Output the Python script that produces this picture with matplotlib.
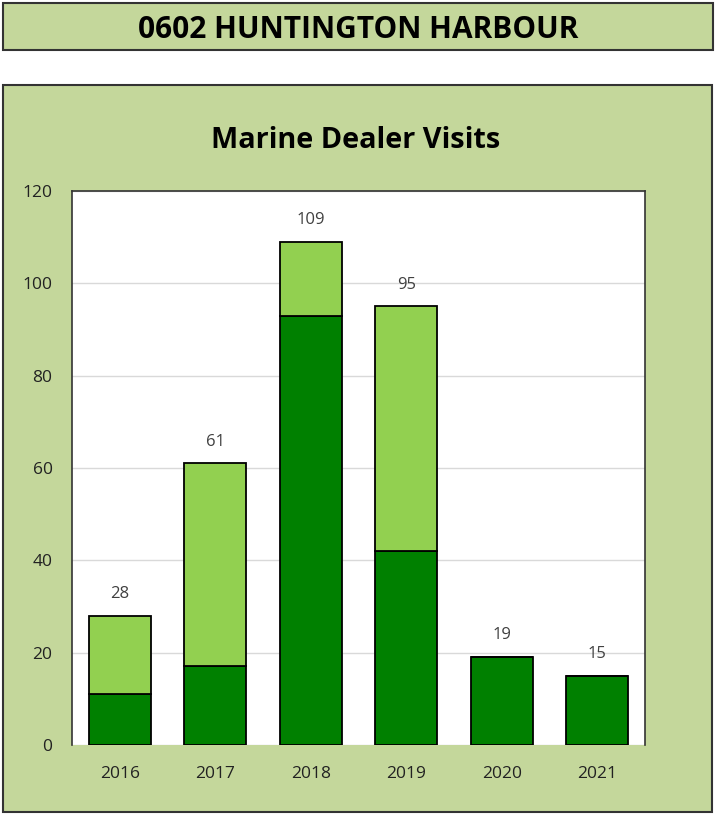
import matplotlib.pyplot as plt
import numpy as np
from matplotlib.patches import Rectangle

years = ["2016", "2017", "2018", "2019", "2020", "2021"]
dark_vals = [11, 17, 93, 42, 19, 15]
light_vals = [17, 44, 16, 53, 0, 0]
totals = [28, 61, 109, 95, 19, 15]

bg = '#C4D79B'
dark = '#008000'
light = '#92D050'

plt.rcParams['font.family'] = ['Open Sans', 'DejaVu Sans']

fig = plt.figure(figsize=(7.16, 8.14), dpi=100)

# header box
fig.patches.append(Rectangle((0.004, 0.9386), 0.992, 0.0577, transform=fig.transFigure,
                             facecolor=bg, edgecolor='#333333', linewidth=1.5, zorder=-5))
fig.text(0.5, 0.963, "0602 HUNTINGTON HARBOUR", ha='center', va='center',
         fontsize=21.5, fontweight='bold', color='black')

# chart box
fig.patches.append(Rectangle((0.004, 0.0025), 0.991, 0.893, transform=fig.transFigure,
                             facecolor=bg, edgecolor='#333333', linewidth=1.5, zorder=-5))
fig.text(0.497, 0.827, "Marine Dealer Visits", ha='center', va='center',
         fontsize=20.8, fontweight='bold', color='black')

ax = fig.add_axes([0.1006, 0.0848, 0.8002, 0.6806])
ax.set_facecolor('white')
x = np.arange(len(years))
w = 0.65
ax.bar(x, dark_vals, w, color=dark, edgecolor='black', linewidth=1.3, zorder=3)
ax.bar(x, light_vals, w, bottom=dark_vals, color=light, edgecolor='black', linewidth=1.3, zorder=3)

for i, t in enumerate(totals):
    ax.text(i, t + 3, str(t), ha='center', va='bottom', fontsize=12, color='#404040')

ax.set_xlim(-0.5, len(years) - 0.5)
ax.set_ylim(0, 120)
ax.set_yticks(np.arange(0, 121, 20))
ax.set_xticks(x)
ax.set_xticklabels(years)
ax.yaxis.grid(True, color='#D9D9D9', linewidth=1, zorder=0)
ax.set_axisbelow(True)
ax.tick_params(axis='both', length=0, labelsize=12.5, colors='#222222')
ax.tick_params(axis='y', pad=14)
ax.tick_params(axis='x', pad=15)
for s in ['top', 'right', 'left']:
    ax.spines[s].set_color('#333333')
    ax.spines[s].set_linewidth(1.2)
ax.spines['bottom'].set_visible(False)

fig.savefig('out.png', dpi=100, facecolor='white')
